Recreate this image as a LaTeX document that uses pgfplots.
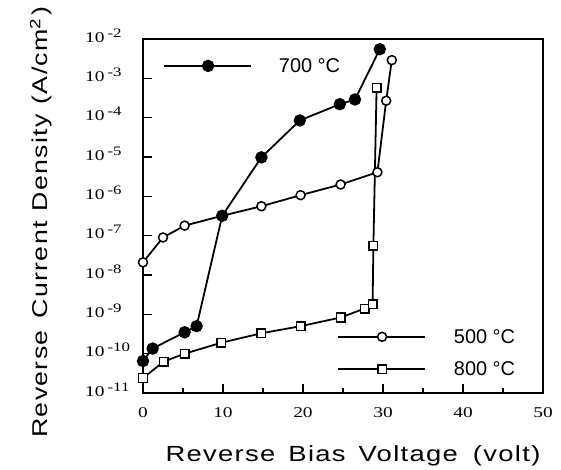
\documentclass[border=0pt]{standalone}
\usepackage{fontspec}
\setmainfont{Liberation Sans}
\newfontfamily\lblfont[FakeStretch=1.25,LetterSpace=6]{Liberation Sans}
\newfontfamily\tickfont[FakeStretch=1.3]{Liberation Serif}
\usepackage{pgfplots}
\pgfplotsset{compat=1.18}
\newcommand{\tl}[1]{10\hspace{3bp}\raisebox{5bp}{\fontsize{13}{13}\selectfont #1}}
\begin{document}
\begin{tikzpicture}
\path[use as bounding box] (-143bp,-77bp) rectangle (418bp,393bp);
\begin{axis}[
  at={(0,0)}, anchor=south west,
  scale only axis, width=400bp, height=354bp,
  xmin=0, xmax=50, ymode=log, ymin=1e-11, ymax=1e-2,
  legend image code/.code={\draw[mark repeat=2,mark phase=2,#1] plot coordinates {(0bp,0bp) (44bp,0bp) (87bp,0bp)};},
  axis line style={line width=2.2pt},
  tick pos=left, tick align=inside,
  xtick={0,10,20,30,40,50}, minor xtick={5,15,25,35,45},
  major tick length=9bp, minor tick length=5bp,
  every tick/.style={black, line width=1.6pt},
  ytick={1e-11,1e-10,1e-9,1e-8,1e-7,1e-6,1e-5,1e-4,1e-3,1e-2},
  yticklabels={\tl{-11},\tl{-10},\tl{-9},\tl{-8},\tl{-7},\tl{-6},\tl{-5},\tl{-4},\tl{-3},\tl{-2}},
  xticklabels={0,10,20,30,40,50},
  yminorticks=false,
  xticklabel style={font=\tickfont\fontsize{15}{15}\selectfont, anchor=base, yshift=-24bp, inner sep=0pt},
  yticklabel style={font=\tickfont\fontsize{15}{15}\selectfont, anchor=base west, xshift=-58bp, yshift=-3bp, inner sep=0pt},
  xlabel={Reverse\hspace{13bp}Bias\hspace{13bp}Voltage\hspace{15bp}(volt)},
  xlabel style={at={(axis description cs:0.525,-0.178)}, anchor=center, font=\lblfont\fontsize{22}{22}\selectfont},
  ylabel={Reverse\hspace{12bp}Current\hspace{10bp}Density\hspace{10bp}(A/cm\textsuperscript{2}\hspace{3bp})},
  ylabel style={at={(axis description cs:-0.255,0.483)}, anchor=center, font=\lblfont\fontsize{21.5}{21.5}\selectfont},
  legend style={draw=none, fill=none, inner sep=0pt, at={(axis description cs:0.485,0.113)}, anchor=west,
    nodes={inner sep=0pt, font=\fontsize{20}{20}\selectfont}, column sep=28bp, row sep=17bp},
  legend cell align=left,
]
\addplot[black, line width=1.8pt, mark=*, mark size=4.5bp, mark options={fill=white, line width=1.5pt}] coordinates {
(0,2.1e-8) (2.5,9e-8) (5.2,1.8e-7) (9.9,3.2e-7) (14.8,5.6e-7) (19.7,1.07e-6) (24.7,2.0e-6) (29.3,4.1e-6) (30.4,2.7e-4) (31.1,2.9e-3)};
\addlegendentry{500 °C}
\addplot[black, line width=1.8pt, mark=square*, mark size=4.3bp, mark options={fill=white, line width=1.5pt}] coordinates {
(0,2.4e-11) (2.6,6.3e-11) (5.2,1.0e-10) (9.8,1.9e-10) (14.8,3.3e-10) (19.7,5.0e-10) (24.7,8.3e-10) (27.7,1.4e-9) (28.7,1.8e-9) (28.8,5.6e-8) (29.2,5.8e-4)};
\addlegendentry{800 °C}
\end{axis}
\begin{axis}[
  at={(0,0)}, anchor=south west,
  scale only axis, width=400bp, height=354bp,
  xmin=0, xmax=50, ymode=log, ymin=1e-11, ymax=1e-2,
  hide axis,
  legend image code/.code={\draw[mark repeat=2,mark phase=2,#1] plot coordinates {(0bp,0bp) (44bp,0bp) (87bp,0bp)};},
  legend style={draw=none, fill=none, inner sep=0pt, at={(axis description cs:0.05,0.924)}, anchor=west,
    nodes={inner sep=0pt, font=\fontsize{20}{20}\selectfont}, column sep=27bp},
  legend cell align=left,
]
\addplot[black, line width=1.8pt, mark=*, mark size=5.3bp, mark options={fill=black}] coordinates {
(0,6.5e-11) (1.2,1.35e-10) (5.2,3.5e-10) (6.7,5.0e-10) (9.9,3.2e-7) (14.8,9.8e-6) (19.6,8.5e-5) (24.6,2.2e-4) (26.5,2.9e-4) (29.6,5.5e-3)};
\addlegendentry{700 °C}
\end{axis}
\end{tikzpicture}
\end{document}
